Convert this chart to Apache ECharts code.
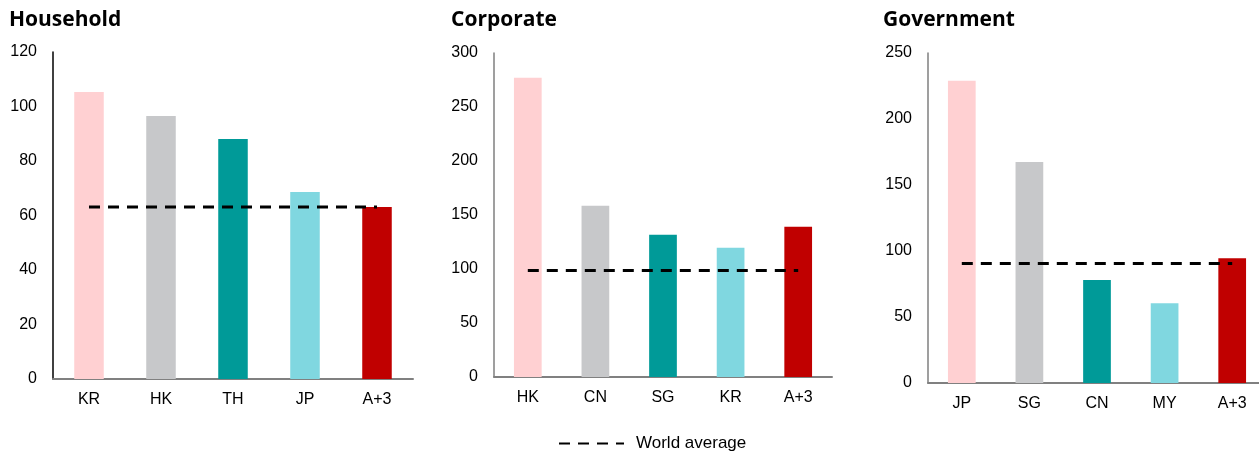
<!DOCTYPE html>
<html>
<head>
<meta charset="utf-8">
<script src="https://cdn.jsdelivr.net/npm/echarts@6/dist/echarts.min.js"></script>
<style>
html,body{margin:0;padding:0;background:#fff;}
#chart{width:1259px;height:452px;}
</style>
</head>
<body>
<div id="chart"></div>
<script>
// ---- Data ----
const householdCats = ['KR', 'HK', 'TH', 'JP', 'A+3'];
const householdVals = [105.3, 96.5, 88.1, 68.6, 63.1];
const householdWorld = 63.1;

const corporateCats = ['HK', 'CN', 'SG', 'KR', 'A+3'];
const corporateVals = [277, 158.6, 131.8, 119.7, 139.2];
const corporateWorld = 98.5;

const governmentCats = ['JP', 'SG', 'CN', 'MY', 'A+3'];
const governmentVals = [229, 167.5, 78, 60.5, 94.6];
const governmentWorld = 90.6;

const panelTitles = ['Household', 'Corporate', 'Government'];
const yMax = [120, 300, 250];
const yInterval = [20, 50, 50];

// ---- Style ----
const barColors = ['#FFD0D2', '#C7C8CA', '#009A98', '#80D7E0', '#C00000'];
const grids = [
  {left: 53, top: 52, width: 360, height: 327},
  {left: 494, top: 53, width: 338, height: 324},
  {left: 928, top: 53, width: 338, height: 330}
];
const titleLeft = [4, 446, 878];
const yAxisColors = ['#000000', '#7f7f7f', '#7f7f7f'];

const cats = [householdCats, corporateCats, governmentCats];
const vals = [householdVals, corporateVals, governmentVals];
const worlds = [householdWorld, corporateWorld, governmentWorld];

const chart = echarts.init(document.getElementById('chart'), null, {renderer: 'canvas'});

const option = {
  animation: false,
  backgroundColor: '#ffffff',
  title: panelTitles.map((t, i) => ({
    text: t, left: titleLeft[i], top: 5,
    textStyle: {fontFamily: 'Open Sans', fontWeight: 'bold', fontSize: 21, color: '#000'}
  })),
  legend: {
    data: ['World average'],
    left: 553, top: 430,
    itemWidth: 65, itemHeight: 14, itemGap: 10,
    itemStyle: {opacity: 0},
    textStyle: {fontFamily: 'Liberation Sans', fontSize: 17, color: '#000', padding: [0, 0, 0, 7]}
  },
  grid: grids.map(g => Object.assign({containLabel: false, outerBoundsMode: 'none'}, g)),
  xAxis: cats.map((c, i) => ({
    type: 'category', gridIndex: i, data: c,
    axisLine: {show: true, lineStyle: {color: '#808080', width: 2}},
    axisTick: {show: false},
    axisLabel: {fontFamily: 'Liberation Sans', fontSize: 16, color: '#000', margin: 13}
  })),
  yAxis: cats.map((c, i) => ({
    type: 'value', gridIndex: i, min: 0, max: yMax[i], interval: yInterval[i],
    axisLine: {show: true, lineStyle: {color: yAxisColors[i], width: 1.5}},
    axisTick: {show: false},
    splitLine: {show: false},
    axisLabel: {fontFamily: 'Liberation Sans', fontSize: 16, color: '#000', margin: 16}
  })),
  series: []
};

cats.forEach((c, i) => {
  option.series.push({
    type: 'bar', xAxisIndex: i, yAxisIndex: i,
    barWidth: '41%',
    data: vals[i].map((v, k) => ({value: v, itemStyle: {color: barColors[k]}})),
    z: 2
  });
  option.series.push({
    name: 'World average',
    type: 'line', xAxisIndex: i, yAxisIndex: i,
    data: c.map(() => worlds[i]),
    symbol: 'none',
    lineStyle: {color: '#000', width: 3, type: [11, 8]},
    itemStyle: {color: '#000'},
    z: 3
  });
});

chart.setOption(option);
</script>
</body>
</html>
